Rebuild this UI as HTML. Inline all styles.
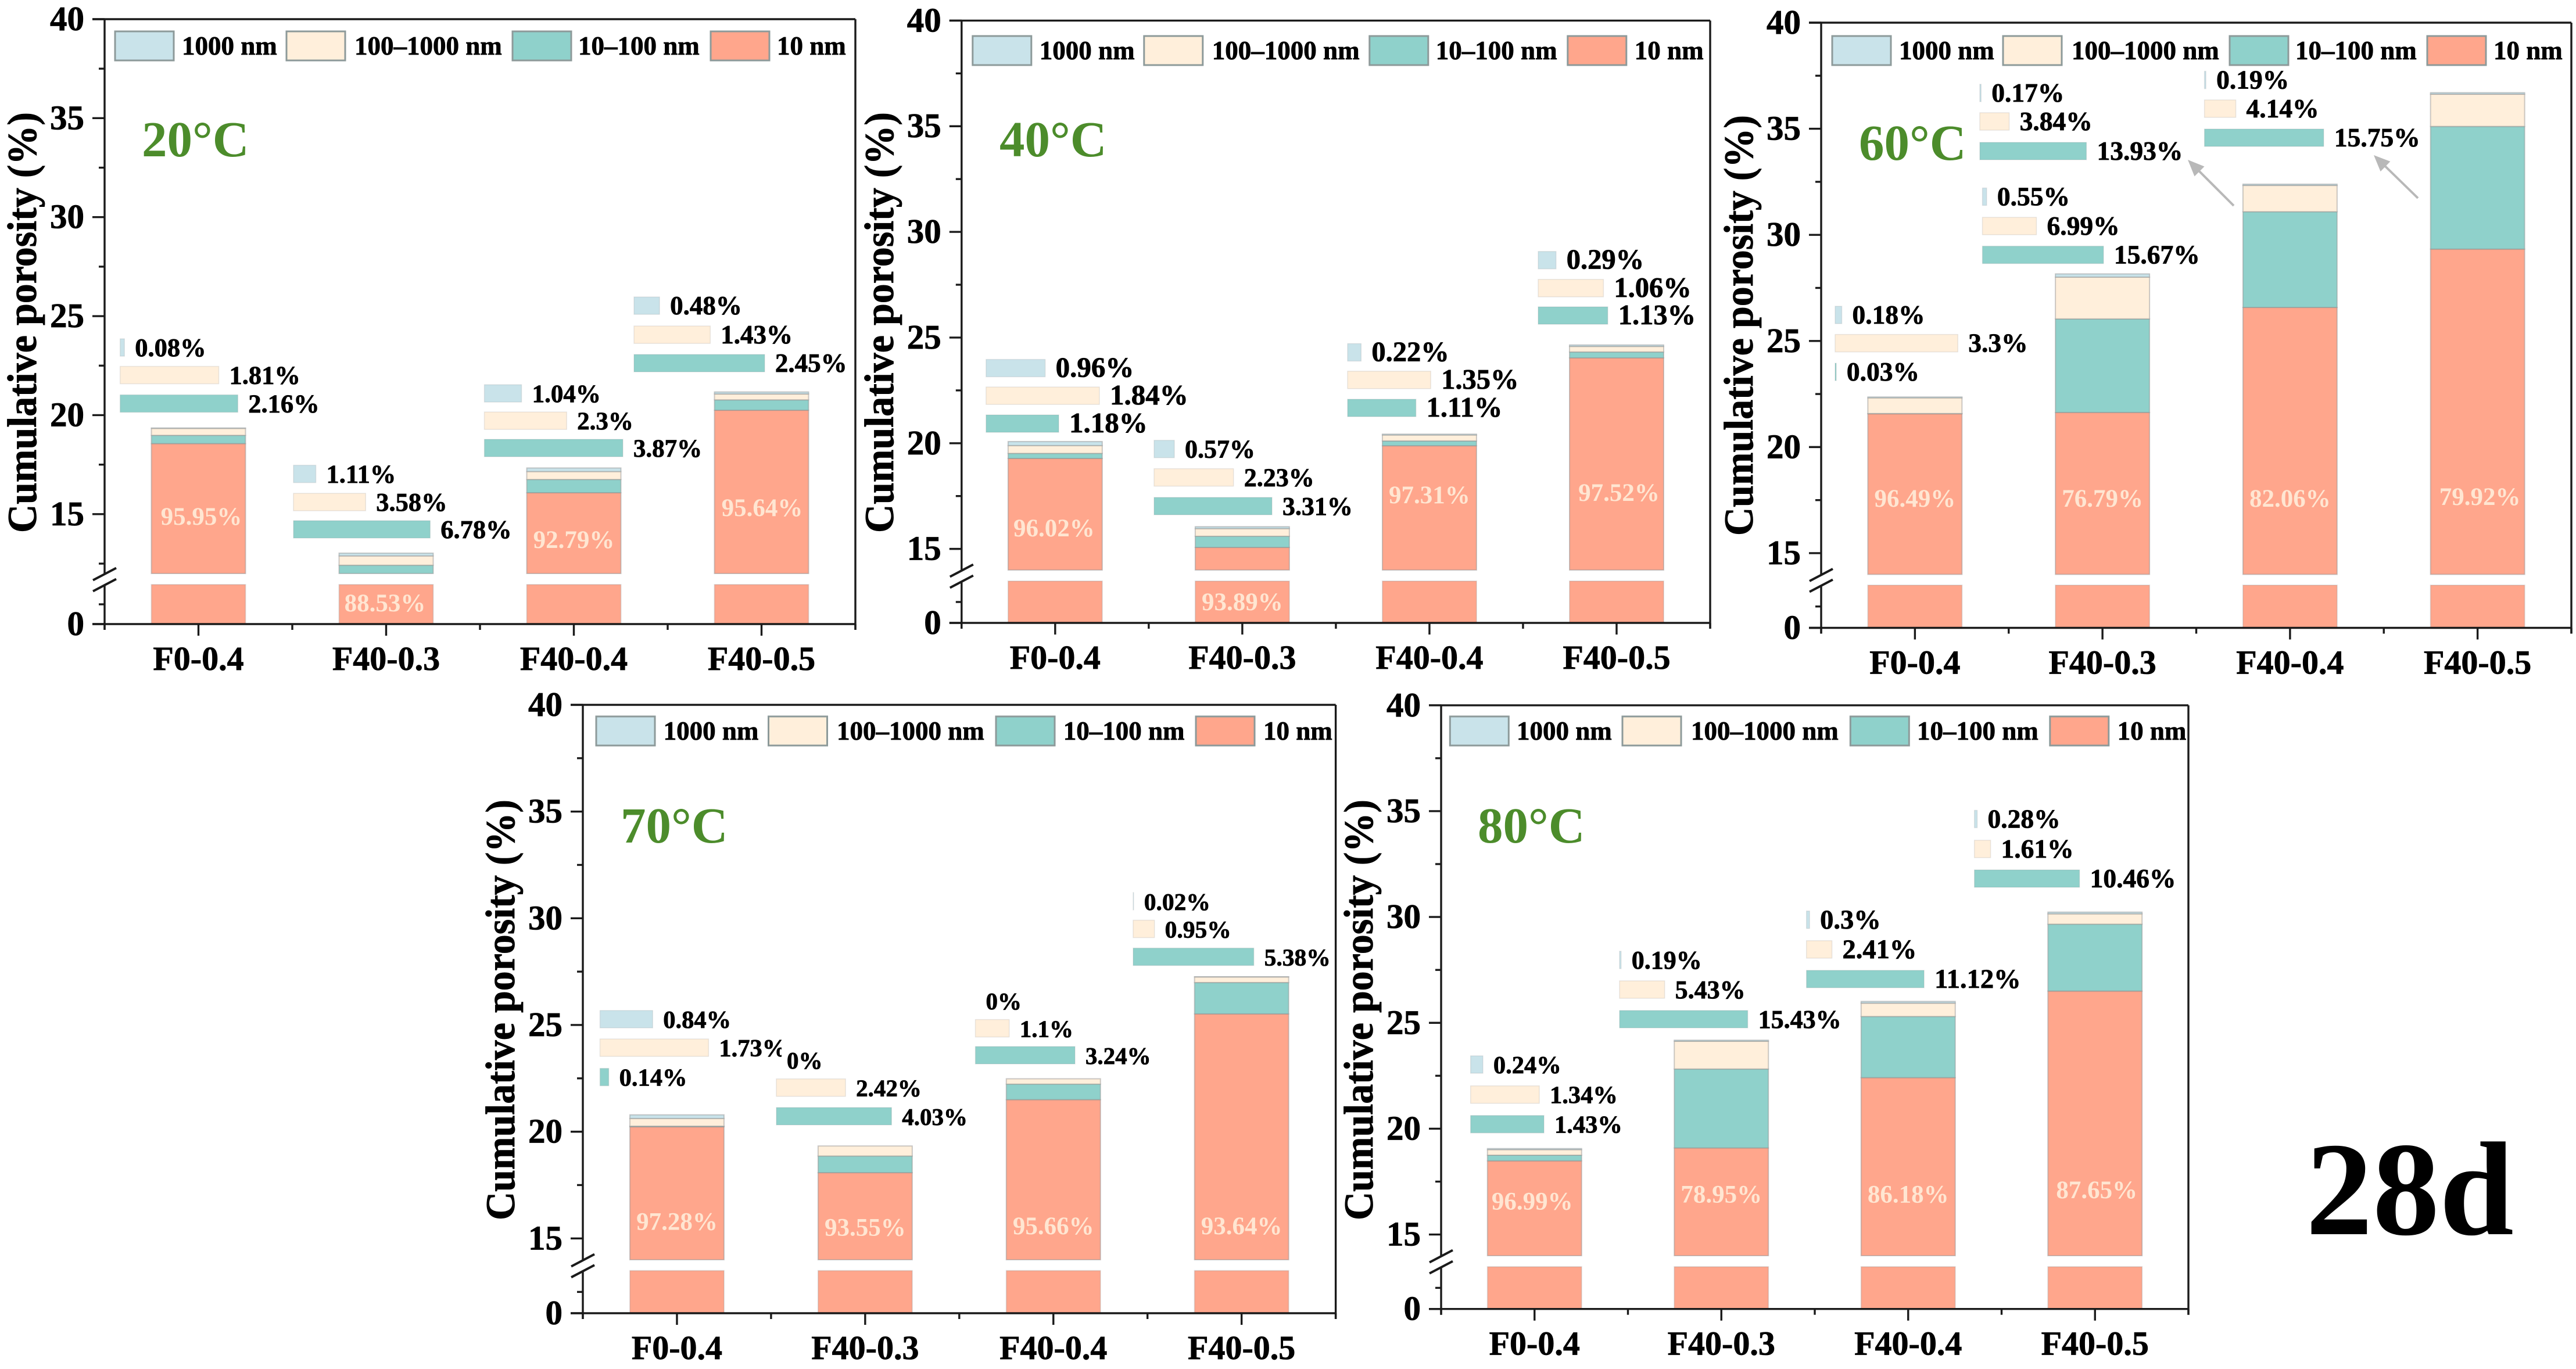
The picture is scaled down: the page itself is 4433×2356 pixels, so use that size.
<!DOCTYPE html>
<html lang="en">
<head>
<meta charset="utf-8">
<title>Cumulative porosity by pore size, 28d</title>
<style>
html,body{margin:0;padding:0;background:#fff;}
svg{display:block;font-family:"Liberation Serif",serif;font-weight:bold;}
.heavy{stroke:#000;stroke-width:0.8;}
</style>
</head>
<body>
<svg id="figure" xmlns="http://www.w3.org/2000/svg" width="4433" height="2356" viewBox="0 0 4433 2356">
<rect x="0" y="0" width="4433" height="2356" fill="#fff"/>

<g id="panel-20"></g>
<g id="panel-40"></g>
<g id="panel-60"></g>
<g id="panel-70"></g>
<g id="panel-80"></g>

<text class="heavy" transform="translate(62,555) rotate(-90) scale(1,1.05)" text-anchor="middle" font-size="68">Cumulative porosity (%)</text>
<text class="heavy" transform="translate(1537,555) rotate(-90) scale(1,1.05)" text-anchor="middle" font-size="68">Cumulative porosity (%)</text>
<text class="heavy" transform="translate(3016,560) rotate(-90) scale(1,1.05)" text-anchor="middle" font-size="68">Cumulative porosity (%)</text>
<text class="heavy" transform="translate(885,1738) rotate(-90) scale(1,1.05)" text-anchor="middle" font-size="68">Cumulative porosity (%)</text>
<text class="heavy" transform="translate(2362,1738) rotate(-90) scale(1,1.05)" text-anchor="middle" font-size="68">Cumulative porosity (%)</text>

<g font-size="87" fill="#4c8c2b">
<text x="244" y="269">20°C</text>
<text x="1720" y="269">40°C</text>
<text x="3199" y="275">60°C</text>
<text x="1068" y="1450">70°C</text>
<text x="2543" y="1450">80°C</text>
</g>

<text x="3968" y="2124" font-size="230" fill="#000">28d</text>

<g stroke="#b8b8b8" fill="#b8b8b8">
<line x1="3844" y1="354" x2="3783" y2="293" stroke-width="4"/>
<polygon points="3765,275 3793.5,286.5 3776.5,303.5" stroke="none"/>
<line x1="4161" y1="341" x2="4103" y2="284.5" stroke-width="4"/>
<polygon points="4085,267 4113.4,277.9 4096.6,295.1" stroke="none"/>
</g>
</svg>

<script>
// ---- Shared labels ----
const categories = ['F0-0.4', 'F40-0.3', 'F40-0.4', 'F40-0.5'];
const seriesLabels = ['10 nm', '10–100 nm', '100–1000 nm', '1000 nm'];
const yMajorTicks = [15, 20, 25, 30, 35, 40];
const yMinorTicks = [12.5, 17.5, 22.5, 27.5, 32.5, 37.5];
const lowerMajorTicks = [0];
const lowerMinorTicks = [2.5];

// ---- Porosity contribution of each pore class (%) ----
const t20Small = [18.56, 11.54, 16.08, 20.25];
const t20Meso = [0.42, 0.88, 0.67, 0.52];
const t20Macro = [0.35, 0.47, 0.40, 0.30];
const t20Large = [0.02, 0.14, 0.18, 0.10];

const t40Small = [19.28, 15.07, 19.88, 24.04];
const t40Meso = [0.24, 0.53, 0.23, 0.28];
const t40Macro = [0.37, 0.36, 0.28, 0.26];
const t40Large = [0.19, 0.09, 0.04, 0.07];

const t60Small = [21.57, 21.63, 26.58, 29.33];
const t60Meso = [0.01, 4.41, 4.51, 5.78];
const t60Macro = [0.74, 1.97, 1.24, 1.52];
const t60Large = [0.04, 0.15, 0.06, 0.07];

const t70Small = [20.23, 18.08, 21.50, 25.52];
const t70Meso = [0.03, 0.78, 0.73, 1.47];
const t70Macro = [0.36, 0.47, 0.25, 0.26];
const t70Large = [0.17, 0, 0, 0.01];

const t80Small = [18.48, 19.09, 22.41, 26.50];
const t80Meso = [0.27, 3.73, 2.89, 3.16];
const t80Macro = [0.26, 1.31, 0.63, 0.49];
const t80Large = [0.05, 0.05, 0.08, 0.08];

// ---- Printed shares of each pore class (%) ----
const p20Small = [95.95, 88.53, 92.79, 95.64];
const p20Meso = [2.16, 6.78, 3.87, 2.45];
const p20Macro = [1.81, 3.58, 2.3, 1.43];
const p20Large = [0.08, 1.11, 1.04, 0.48];

const p40Small = [96.02, 93.89, 97.31, 97.52];
const p40Meso = [1.18, 3.31, 1.11, 1.13];
const p40Macro = [1.84, 2.23, 1.35, 1.06];
const p40Large = [0.96, 0.57, 0.22, 0.29];

const p60Small = [96.49, 76.79, 82.06, 79.92];
const p60Meso = [0.03, 15.67, 13.93, 15.75];
const p60Macro = [3.3, 6.99, 3.84, 4.14];
const p60Large = [0.18, 0.55, 0.17, 0.19];

const p70Small = [97.28, 93.55, 95.66, 93.64];
const p70Meso = [0.14, 4.03, 3.24, 5.38];
const p70Macro = [1.73, 2.42, 1.1, 0.95];
const p70Large = [0.84, 0, 0, 0.02];

const p80Small = [96.99, 78.95, 86.18, 87.65];
const p80Meso = [1.43, 15.43, 11.12, 10.46];
const p80Macro = [1.34, 5.43, 2.41, 1.61];
const p80Large = [0.24, 0.19, 0.3, 0.28];

// ---- Styling and panel layout (not data) ----
const seriesFill = ['#ffa68c', '#8fd1cb', '#ffefdb', '#c9e3ea'];
const seriesKey = ['under-10nm', '10-100nm', '100-1000nm', 'over-1000nm'];
const legendSwatchX = [1043, 702, 313, 18];
const legendTextX = [1157, 815, 430, 133];
const NS = 'http://www.w3.org/2000/svg';

const panels = [
  { id: '20', left: 180, right: 1472, top: 33, bottom: 1074, upperBottom: 987, lowerTop: 1006, breakHigh: 12, legendY: 54,
    swatchDx: [0, 0, 0, 0], textDx: [0, 0, 0, 0], insetFont: [44.5, 44.5, 43, 45], maskAfter: -1,
    values: [t20Small, t20Meso, t20Macro, t20Large], shares: [p20Small, p20Meso, p20Macro, p20Large],
    insetX: [206.7, 505, 833.5, 1091], insetScale: [93.8, 34.7, 61.6, 91.8],
    insetY: [[583, 630.5, 679.5], [800.6, 849, 896], [662, 709, 756], [511, 561, 610]],
    shareY: [889, 1038, 929, 874], shareDx: [5, -2, 0, 1] },
  { id: '40', left: 1654.8, right: 2943, top: 35.4, bottom: 1072, upperBottom: 981, lowerTop: 1000, breakHigh: 14, legendY: 62,
    swatchDx: [0, 0, 1, 1], textDx: [1, 1, 1, 1], insetFont: [49, 44, 48.5, 48.5], maskAfter: -1,
    values: [t40Small, t40Meso, t40Macro, t40Large], shares: [p40Small, p40Meso, p40Macro, p40Large],
    insetX: [1696.9, 1986, 2319, 2647], insetScale: [106, 61.3, 106, 106],
    insetY: [[618.5, 666, 714], [757.7, 806.6, 856], [591.4, 638.8, 687], [432.7, 480.8, 528]],
    shareY: [909, 1036, 852, 848], shareDx: [-2, 0, 0, 4] },
  { id: '60', left: 3134, right: 4425, top: 39, bottom: 1080.5, upperBottom: 988.5, lowerTop: 1007, breakHigh: 14, legendY: 62,
    swatchDx: [0, 1, 0, 1], textDx: [0, 1, 1, 1], insetFont: [45.5, 45.5, 45.5, 45.5], maskAfter: -1,
    values: [t60Small, t60Meso, t60Macro, t60Large], shares: [p60Small, p60Meso, p60Macro, p60Large],
    insetX: [3158, 3411.5, 3407, 3793.6], insetScale: [64, 13.3, 13.17, 13.03],
    insetY: [[527, 575.6, 625], [323.5, 374, 423.6], [145, 194, 245], [122.6, 172, 222]],
    shareY: [858, 858, 858, 855], shareDx: [0, 0, 0, 4] },
  { id: '70', left: 1003, right: 2298.6, top: 1213, bottom: 2260, upperBottom: 2168, lowerTop: 2186.7, breakHigh: 14, legendY: 1233,
    swatchDx: [12, 9, 6.5, 5], textDx: [14, 11.7, 7, 5.6], insetFont: [42.5, 41, 41, 41.5], maskAfter: 0,
    values: [t70Small, t70Meso, t70Macro, t70Large], shares: [p70Small, p70Meso, p70Macro, p70Large],
    insetX: [1032.5, 1336, 1678.5, 1950], insetScale: [108, 49.2, 52.9, 38.6],
    insetY: [[1739, 1788, 1838.6], [1809, 1856.7, 1906], [1707, 1754.6, 1801], [1536, 1583.6, 1631.6]],
    shareY: [2102.7, 2112.5, 2110, 2110], shareDx: [0, 0, 0, 0] },
  { id: '80', left: 2480, right: 3766, top: 1213.8, bottom: 2252.7, upperBottom: 2161, lowerTop: 2180, breakHigh: 14, legendY: 1233,
    swatchDx: [4.8, 2.3, -1, -2.7], textDx: [6.6, 4, 0, -3], insetFont: [42.5, 44, 46.5, 45.5], maskAfter: -1,
    values: [t80Small, t80Meso, t80Macro, t80Large], shares: [p80Small, p80Meso, p80Macro, p80Large],
    insetX: [2530.7, 2787, 3108.7, 3397.7], insetScale: [88.3, 14.3, 18.2, 17.3],
    insetY: [[1817, 1868.7, 1919.7], [1637, 1688, 1739], [1567.8, 1618.9, 1669.9], [1394.5, 1446, 1497]],
    shareY: [2067.5, 2055.5, 2055.5, 2048], shareDx: [-4, 0, 0, 3] }
];

function mk(tag, attrs, parent) {
  const el = document.createElementNS(NS, tag);
  for (const k in attrs) el.setAttribute(k, attrs[k]);
  parent.appendChild(el);
  return el;
}

function drawPanel(p) {
  const g = document.getElementById('panel-' + p.id);
  const axisTop = 40;
  const lowerMax = 5;
  const yUpper = v => p.upperBottom - (v - p.breakHigh) * (p.upperBottom - p.top) / (axisTop - p.breakHigh);
  const yLower = v => p.bottom - v * (p.bottom - p.lowerTop) / lowerMax;
  const band = (p.right - p.left) / categories.length;
  const xCenter = i => p.left + (i + 0.5) * band;
  const halfBar = 81;

  // stacked bars
  categories.forEach((cat, i) => {
    let base = 0;
    p.values.forEach((series, s) => {
      const v0 = base;
      const v1 = base + series[i];
      base = v1;
      if (series[i] <= 0) return;
      if (v1 > p.breakHigh) {
        const y0 = yUpper(Math.max(v0, p.breakHigh));
        const y1 = yUpper(v1);
        const r = mk('rect', { x: xCenter(i) - halfBar, y: y1, width: halfBar * 2, height: y0 - y1, fill: seriesFill[s], stroke: '#8c8c8c', 'stroke-opacity': 0.45, 'stroke-width': 2 }, g);
        
        
      }
      if (v0 < lowerMax) {
        const y0 = yLower(v0);
        const y1 = yLower(Math.min(v1, lowerMax));
        const r = mk('rect', { x: xCenter(i) - halfBar, y: y1, width: halfBar * 2, height: y0 - y1, fill: seriesFill[s], stroke: '#8c8c8c', 'stroke-opacity': 0.25, 'stroke-width': 2 }, g);
        
        
      }
    });

    // printed share inside the bar
    const share = mk('text', { x: xCenter(i) + p.shareDx[i], y: p.shareY[i] + 14, 'text-anchor': 'middle', 'font-size': 43, fill: '#ffe6d2' }, g);
    
    
    share.textContent = p.shares[0][i] + '%';

    // category tick label
    const xl = mk('text', { x: xCenter(i), y: p.bottom + 79, 'text-anchor': 'middle', 'font-size': 58, fill: '#000', class: 'heavy' }, g);
    
    
    xl.textContent = cat;

    // major tick at the category centre
    const xt = mk('line', { x1: xCenter(i), x2: xCenter(i), y1: p.bottom, y2: p.bottom + 20, stroke: '#1a1a1a', 'stroke-width': 3.4 }, g);
    
    

    // percentage mini bars: 1000 nm, 100–1000 nm, 10–100 nm
    [3, 2, 1].forEach((s, row) => {
      const pct = p.shares[s][i];
      const w = pct * p.insetScale[i];
      const top = p.insetY[i][row];
      if (pct > 0) {
        const b = mk('rect', { x: p.insetX[i], y: top, width: w, height: 30, fill: seriesFill[s], stroke: '#8c8c8c', 'stroke-opacity': 0.2, 'stroke-width': 1.5 }, g);
        
        
      }
      const t = mk('text', { x: p.insetX[i] + w + 18, y: top + 30, 'font-size': p.insetFont[i], fill: '#000', class: 'heavy' }, g);
      
      
      t.textContent = pct + '%';
    });

    // white cover that clips the neighbouring label, as in the source artwork
    if (p.maskAfter === i) {
      const clipMask = mk('rect', { x: 1345, y: 1785, width: 25, height: 40, fill: '#fff' }, g);
      
      
    }
  });

  // minor ticks on the category axis
  for (let i = 0; i <= categories.length; i++) {
    const m = mk('line', { x1: p.left + i * band, x2: p.left + i * band, y1: p.bottom, y2: p.bottom + 10, stroke: '#1a1a1a', 'stroke-width': 3.4 }, g);
    
    
  }

  // frame and axes
  const frameTop = mk('line', { x1: p.left - 21, x2: p.right, y1: p.top, y2: p.top, stroke: '#1a1a1a', 'stroke-width': 3.4 }, g);
  
  

  const frameRight = mk('line', { x1: p.right, x2: p.right, y1: p.top, y2: p.bottom + 10, stroke: '#1a1a1a', 'stroke-width': 3.4 }, g);
  
  

  const xAxis = mk('line', { x1: p.left - 21, x2: p.right, y1: p.bottom, y2: p.bottom, stroke: '#1a1a1a', 'stroke-width': 3.4 }, g);
  
  

  const yAxisUp = mk('line', { x1: p.left, x2: p.left, y1: p.top, y2: p.upperBottom + 1, stroke: '#1a1a1a', 'stroke-width': 3.4 }, g);
  
  

  const yAxisLow = mk('line', { x1: p.left, x2: p.left, y1: p.lowerTop + 1, y2: p.bottom + 10, stroke: '#1a1a1a', 'stroke-width': 3.4 }, g);
  
  

  // axis-break slashes
  [p.upperBottom + 1, p.lowerTop + 1].forEach(yb => {
    const sl = mk('line', { x1: p.left - 20, y1: yb + 10.5, x2: p.left + 20, y2: yb - 10.5, stroke: '#1a1a1a', 'stroke-width': 4 }, g);
    
    
  });

  // y ticks
  const drawTick = (y, len, label) => {
    const t = mk('line', { x1: p.left - len, x2: p.left, y1: y, y2: y, stroke: '#1a1a1a', 'stroke-width': 3.4 }, g);
    
    
    if (label !== null) {
      const l = mk('text', { x: p.left - 35, y: y + 19, 'text-anchor': 'end', 'font-size': 59, fill: '#000', class: 'heavy' }, g);
      
      
      l.textContent = label;
    }
  };
  yMajorTicks.forEach(v => drawTick(yUpper(v), 21, v));
  yMinorTicks.filter(v => v > p.breakHigh).forEach(v => drawTick(yUpper(v), 10, null));
  lowerMajorTicks.forEach(v => drawTick(yLower(v), 21, v));
  lowerMinorTicks.forEach(v => drawTick(yLower(v), 10, null));

  // legend
  const legend = mk('g', {}, g);
  
  
  seriesLabels.forEach((name, s) => {
    const sw = mk('rect', { x: p.left + legendSwatchX[s] + p.swatchDx[s], y: p.legendY, width: 101, height: 50, fill: seriesFill[s], stroke: '#8d9a9a', 'stroke-width': 3 }, legend);
    
    
    const tx = mk('text', { x: p.left + legendTextX[s] + p.textDx[s], y: p.legendY + 40, 'font-size': 45, fill: '#000', class: 'heavy' }, legend);
    
    
    tx.textContent = name;
  });
}

panels.forEach(drawPanel);
</script>
</body>
</html>
